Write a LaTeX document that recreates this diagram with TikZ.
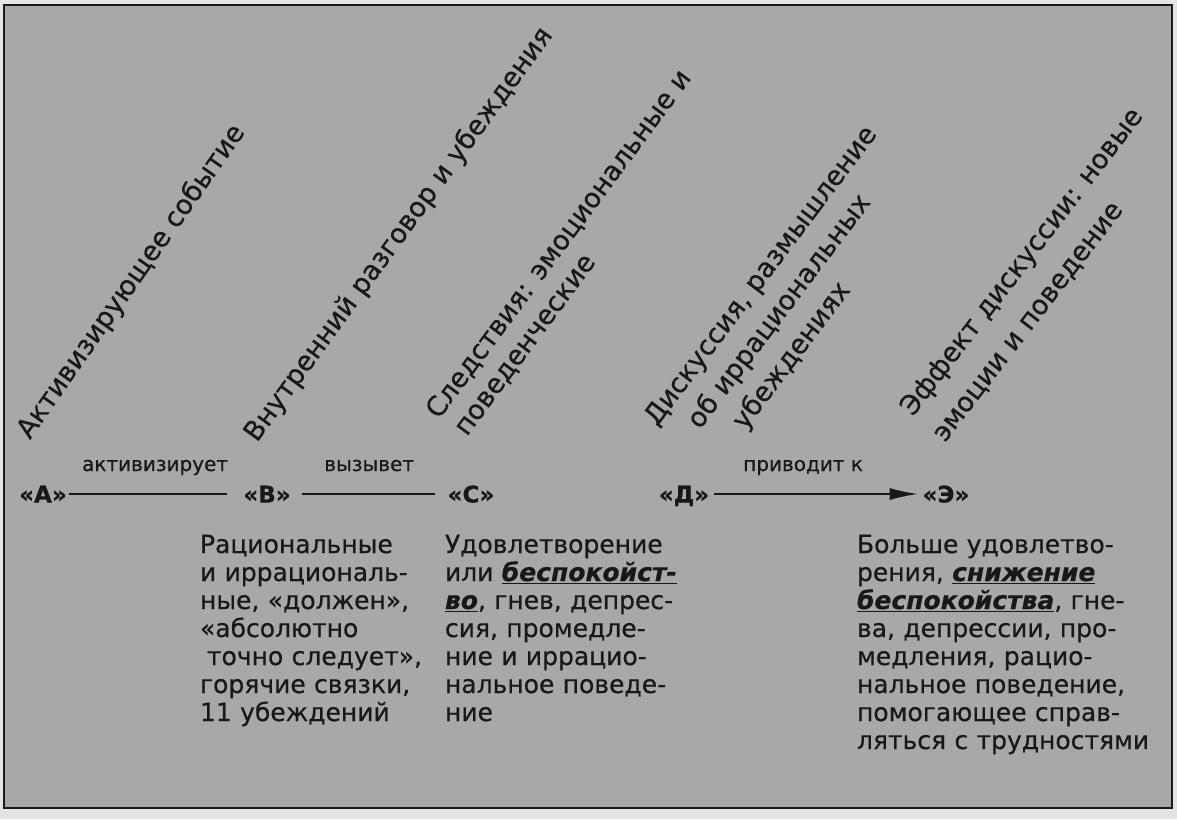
\documentclass[tikz,border=0pt]{standalone}
\usepackage{fontspec}
\setmainfont{DejaVu Sans}[FakeBold=0.6]
\usetikzlibrary{arrows.meta}
\definecolor{paper}{RGB}{228,228,228}
\definecolor{panel}{RGB}{168,168,168}
\definecolor{ink}{RGB}{24,24,24}
\newcommand{\ul}[1]{\underline{\textbf{\textit{#1}}}}
\begin{document}
\begin{tikzpicture}[x=1pt,y=-1pt,
  every node/.style={text=ink, inner sep=0pt, outer sep=0pt},
  slant/.style={rotate=#1, anchor=base west, font=\fontsize{27}{33}\selectfont},
  letter/.style={font=\fontsize{23}{26}\selectfont\bfseries, text height=17pt, text depth=0pt},
  body/.style={anchor=base west, align=left, text width=320pt, font=\fontsize{25}{28}\selectfont},
  link/.style={draw=ink, line width=1.4pt},
  linklabel/.style={anchor=base, yshift=23pt, font=\fontsize{20}{24}\selectfont}
]
\useasboundingbox (0,0) rectangle (1177,819);
\fill[paper] (0,0) rectangle (1177,819);
\draw[fill=panel, draw=ink, line width=2.5pt] (4,5) rectangle (1172,808);

% rotated headings
\node[slant=55] (hA) at (30,440) {Активизирующее событие};
\node[slant=54] (hB) at (257,443) {Внутренний разговор и убеждения};
\node[slant=53.5] (hC1) at (439,420) {Следствия: эмоциональные и};
\node[slant=53.5] (hC2) at (467,437) {поведенческие};
\node[slant=53] (hD1) at (657,427) {Дискуссия, размышление};
\node[slant=53] (hD2) at (700,430) {об иррациональных};
\node[slant=53] (hD3) at (745,431) {убеждениях};
\node[slant=52.5] (hE1) at (913,417) {Эффект дискуссии: новые};
\node[slant=52.5] (hE2) at (945,443) {эмоции и поведение};

% letters
\node[letter] (A) at (43,494) {«А»};
\node[letter] (B) at (267,494) {«В»};
\node[letter] (C) at (471,494) {«С»};
\node[letter] (D) at (684,494) {«Д»};
\node[letter] (E) at (946,494) {«Э»};

% connectors
\draw[link, shorten <=2pt, shorten >=16pt] (A) -- node[linklabel] (lAB) {активизирует} (B);
\draw[link, shorten <=11pt, shorten >=13pt] (B) -- node[linklabel] (lBC) {вызывет} (C);
\draw[link, shorten <=5pt, shorten >=5pt, -{Latex[length=28pt,width=12pt]}] (D) -- node[linklabel, pos=0.44] (lDE) {приводит к} (E);

% body texts
\node[body] (tB) at (200,553) {Рациональные\\
и иррациональ-\\
ные, «должен»,\\
«абсолютно\\
\hspace*{7pt}точно следует»,\\
горячие связки,\\
11 убеждений};
\node[body] (tC) at (445,553) {Удовлетворение\\
или \ul{беспокойст-}\\
\ul{во}, гнев, депрес-\\
сия, промедле-\\
ние и иррацио-\\
нальное поведе-\\
ние};
\node[body] (tE) at (857,553) {Больше удовлетво-\\
рения, \ul{снижение}\\
\ul{беспокойства}, гне-\\
ва, депрессии, про-\\
медления, рацио-\\
нальное поведение,\\
помогающее справ-\\
ляться с трудностями};
\end{tikzpicture}
\end{document}
